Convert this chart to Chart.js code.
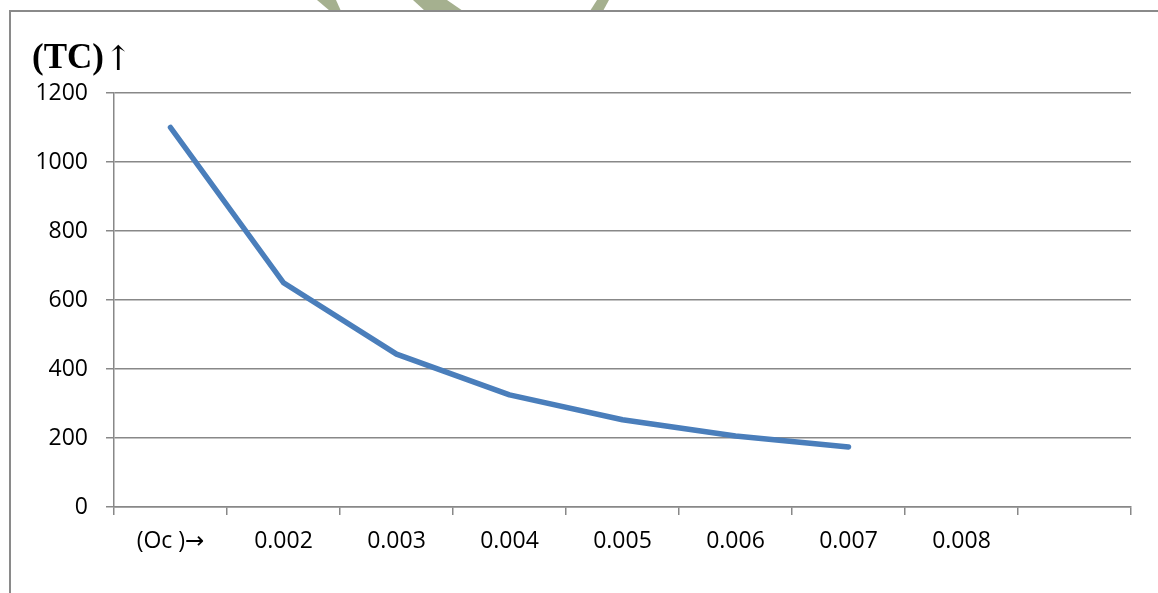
<!DOCTYPE html>
<html>
<head>
<meta charset="utf-8">
<script src="https://cdn.jsdelivr.net/npm/chart.js@4"></script>
<style>
  html, body { margin: 0; padding: 0; background: #fff; }
  #wrap { width: 1158px; height: 593px; position: relative; }
</style>
</head>
<body>
<div id="wrap"><canvas id="chart" width="1158" height="593"></canvas></div>
<script>
const categories = ['(Oc )\u2192', '0.002', '0.003', '0.004', '0.005', '0.006', '0.007', '0.008', ''];
const tcValues = [1100, 650, 443, 325, 253, 206, 174, null, null];
const yTicks = [0, 200, 400, 600, 800, 1000, 1200];
const yLabel = '(TC)\u2191';

const gray = '#888888';
const tickFont = { family: '"Open Sans", "DejaVu Sans", sans-serif', size: 23 };

// frame lines, the bits of the green watermark above it and the "(TC)" label
const decor = {
    id: 'decor',
    beforeDraw(chart) {
        const ctx = chart.ctx;
        ctx.save();
        ctx.beginPath();
        ctx.rect(0, 0, 1158, 10);
        ctx.clip();
        ctx.fillStyle = '#a5b08f';
        [[[317, 0], [336, 0], [341, 11], [330, 11]],
         [[413, 0], [447, 0], [463, 11], [425, 11]],
         [[597, 0], [609, 0], [603, 11], [590, 11]]].forEach(poly => {
            ctx.beginPath();
            poly.forEach(([x, y], i) => i ? ctx.lineTo(x, y) : ctx.moveTo(x, y));
            ctx.closePath();
            ctx.fill();
        });
        ctx.restore();

        ctx.save();
        ctx.strokeStyle = '#8a8a8a';
        ctx.lineWidth = 2;
        ctx.beginPath();
        ctx.moveTo(10, 593);
        ctx.lineTo(10, 11);
        ctx.lineTo(1158, 11);
        ctx.stroke();
        ctx.fillStyle = '#000';
        ctx.font = 'bold 35px "Liberation Serif", "Times New Roman", serif';
        ctx.textBaseline = 'alphabetic';
        ctx.fillText('(TC)', 32, 68);
        const w = ctx.measureText('(TC)').width;
        ctx.font = '34px "DejaVu Serif", serif';
        ctx.fillText(yLabel.slice(4), 32 + w, 70);
        ctx.restore();
    }
};

new Chart(document.getElementById('chart').getContext('2d'), {
    type: 'line',
    data: {
        labels: categories,
        datasets: [{
            data: tcValues,
            borderColor: '#4a7ebb',
            borderWidth: 5.5,
            borderCapStyle: 'round',
            borderJoinStyle: 'round',
            tension: 0,
            pointRadius: 0,
            fill: false
        }]
    },
    options: {
        responsive: false,
        animation: false,
        layout: { padding: { top: 93, right: 27, left: 0, bottom: 0 } },
        plugins: { legend: { display: false }, tooltip: { enabled: false } },
        scales: {
            x: {
                offset: true,
                afterFit: s => { s.height = 86; },
                grid: { offset: true, drawOnChartArea: false, drawTicks: true, tickLength: 8, color: gray, lineWidth: 1.5 },
                border: { display: true, color: gray, width: 1.5 },
                ticks: { color: '#000', font: tickFont, padding: 13, maxRotation: 0, autoSkip: false }
            },
            y: {
                min: 0,
                max: 1200,
                afterFit: s => { s.width = 114; },
                afterBuildTicks: s => { s.ticks = yTicks.map(v => ({ value: v })); },
                grid: { color: gray, lineWidth: 1.5, tickLength: 8 },
                border: { display: true, color: gray, width: 1.5 },
                ticks: { color: '#000', font: tickFont, padding: 18, callback: v => String(v) }
            }
        }
    },
    plugins: [decor]
});
</script>
</body>
</html>
